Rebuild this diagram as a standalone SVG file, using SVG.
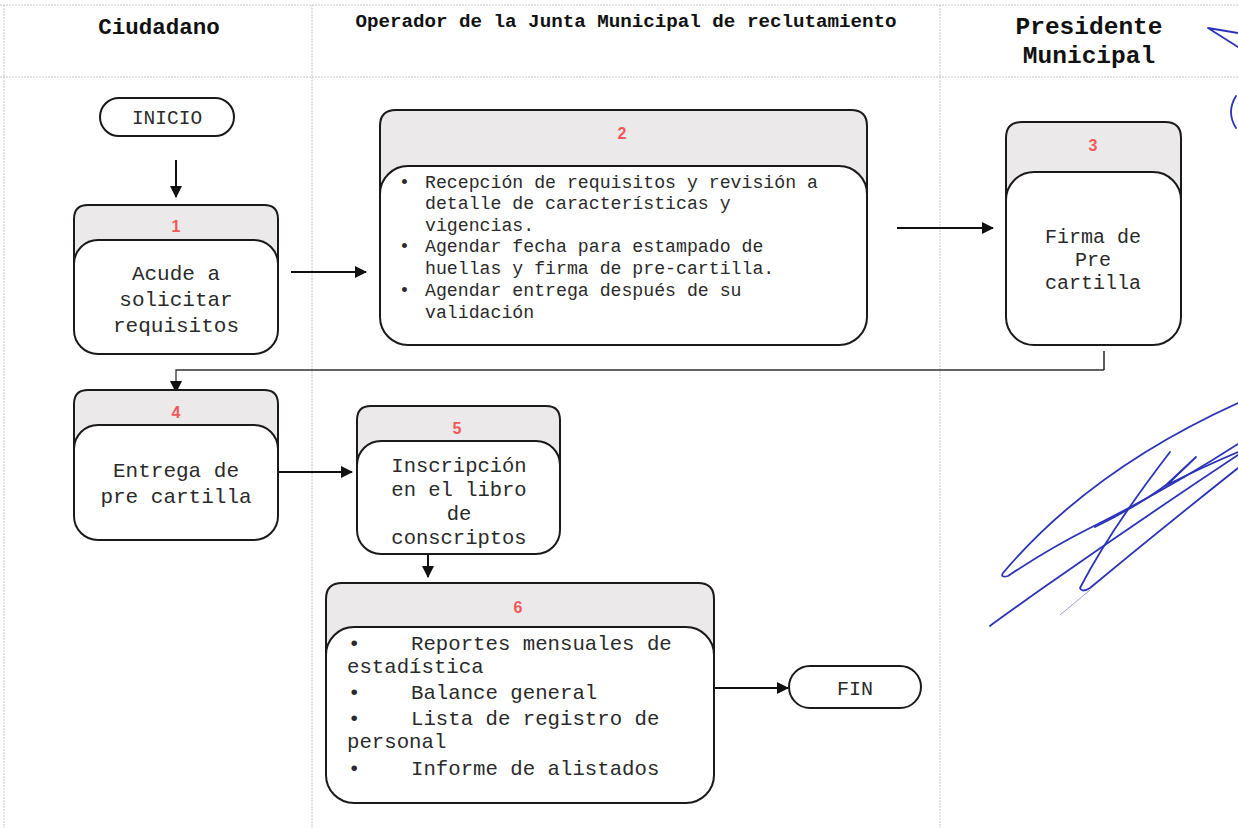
<svg xmlns="http://www.w3.org/2000/svg" width="1238" height="828" viewBox="0 0 1238 828">
<defs>
<marker id="arr" markerWidth="12" markerHeight="12" refX="11" refY="6" orient="auto" markerUnits="userSpaceOnUse">
<path d="M0,0 L12,6 L0,12 Z" fill="#111"/>
</marker>
</defs>
<style>
.lane{stroke:#c8c8c8;stroke-width:1;stroke-dasharray:2 1;fill:none}
.hdr{font-family:"Liberation Mono","Courier New",monospace;font-weight:bold;fill:#111;text-anchor:middle}
.outer{fill:#ebe9e9;stroke:#1a1a1a;stroke-width:2}
.inner{fill:#fff;stroke:#1a1a1a;stroke-width:2}
.num{font-family:"Liberation Sans",Arial,sans-serif;font-weight:bold;font-size:16px;fill:#f0585a;text-anchor:middle}
.t{font-family:"Liberation Mono","Courier New",monospace;fill:#2a2a2a;text-anchor:middle}
.tl{font-family:"Liberation Mono","Courier New",monospace;fill:#2a2a2a}
.term{fill:#fff;stroke:#1a1a1a;stroke-width:2}
.con{stroke:#111;stroke-width:2;fill:none}
.sig{stroke:#2b34b8;stroke-width:1.8;fill:none;stroke-linecap:round;stroke-linejoin:round}
</style>
<rect width="1238" height="828" fill="#fff"/>
<g id="lanes">
<line class="lane" x1="0" y1="5" x2="1238" y2="5"/>
<line class="lane" x1="0" y1="77" x2="1238" y2="77"/>
<line class="lane" x1="4" y1="5" x2="4" y2="828"/>
<line class="lane" x1="312" y1="5" x2="312" y2="828"/>
<line class="lane" x1="940" y1="5" x2="940" y2="828"/>
<text class="hdr" x="159" y="34" font-size="22.5">Ciudadano</text>
<text class="hdr" x="626" y="27" font-size="19.2">Operador de la Junta Municipal de reclutamiento</text>
<text class="hdr" x="1089" y="34" font-size="24.5">Presidente</text>
<text class="hdr" x="1089" y="63" font-size="24.5">Municipal</text>
</g>
<g id="connectors">
<line class="con" x1="176" y1="160" x2="176" y2="197" marker-end="url(#arr)"/>
<line class="con" x1="291" y1="272" x2="366" y2="272" marker-end="url(#arr)"/>
<line class="con" x1="897" y1="228" x2="993" y2="228" marker-end="url(#arr)"/>
<line x1="1104" y1="351" x2="1104" y2="370" stroke="#222" stroke-width="1.5"/>
<polyline points="1104,370 176,370 176,392" fill="none" stroke="#333" stroke-width="1.3" marker-end="url(#arr)"/>
<line class="con" x1="278" y1="472" x2="352" y2="472" marker-end="url(#arr)"/>
<line class="con" x1="428" y1="554" x2="428" y2="577" marker-end="url(#arr)"/>
<line class="con" x1="714" y1="688" x2="788" y2="688" marker-end="url(#arr)"/>
</g>
<g id="inicio">
<rect class="term" x="100" y="98" width="134" height="38" rx="19"/>
<text class="t" x="167" y="124" font-size="19.5">INICIO</text>
</g>
<g id="n1">
<path class="outer" d="M74,264 V219 Q74,205 88,205 H264 Q278,205 278,219 V264 Z"/>
<rect class="inner" x="74" y="240" width="204" height="114" rx="24"/>
<text class="num" x="176" y="232">1</text>
<text class="t" font-size="21"><tspan x="176" y="280">Acude a</tspan><tspan x="176" y="306">solicitar</tspan><tspan x="176" y="332">requisitos</tspan></text>
</g>
<g id="n2">
<path class="outer" d="M380,194 V126 Q380,110 396,110 H851 Q867,110 867,126 V194 Z"/>
<rect class="inner" x="380" y="166" width="487" height="179" rx="28"/>
<text class="num" x="622" y="139">2</text>
<text class="tl" font-size="18.2">
<tspan x="399" y="188">•</tspan><tspan x="425" y="188">Recepción de requisitos y revisión a</tspan>
<tspan x="425" y="209">detalle de características y</tspan>
<tspan x="425" y="231">vigencias.</tspan>
<tspan x="399" y="252">•</tspan><tspan x="425" y="252">Agendar fecha para estampado de</tspan>
<tspan x="425" y="274">huellas y firma de pre-cartilla.</tspan>
<tspan x="399" y="296">•</tspan><tspan x="425" y="296">Agendar entrega después de su</tspan>
<tspan x="425" y="318">validación</tspan>
</text>
</g>
<g id="n3">
<path class="outer" d="M1006,200 V138 Q1006,122 1022,122 H1165 Q1181,122 1181,138 V200 Z"/>
<rect class="inner" x="1006" y="172" width="175" height="173" rx="28"/>
<text class="num" x="1093" y="151">3</text>
<text class="t" font-size="20"><tspan x="1093" y="243">Firma de</tspan><tspan x="1093" y="266">Pre</tspan><tspan x="1093" y="289">cartilla</tspan></text>
</g>
<g id="n4">
<path class="outer" d="M74,449 V404 Q74,390 88,390 H264 Q278,390 278,404 V449 Z"/>
<rect class="inner" x="74" y="425" width="204" height="115" rx="24"/>
<text class="num" x="176" y="418">4</text>
<text class="t" font-size="21"><tspan x="176" y="477">Entrega de</tspan><tspan x="176" y="503">pre cartilla</tspan></text>
</g>
<g id="n5">
<path class="outer" d="M357,465 V420 Q357,406 371,406 H546 Q560,406 560,420 V465 Z"/>
<rect class="inner" x="357" y="441" width="203" height="113" rx="24"/>
<text class="num" x="457" y="434">5</text>
<text class="t" font-size="20.5"><tspan x="459" y="472">Inscripción</tspan><tspan x="459" y="496">en el libro</tspan><tspan x="459" y="520">de</tspan><tspan x="459" y="544">conscriptos</tspan></text>
</g>
<g id="n6">
<path class="outer" d="M326,655 V599 Q326,583 342,583 H698 Q714,583 714,599 V655 Z"/>
<rect class="inner" x="326" y="627" width="388" height="176" rx="28"/>
<text class="num" x="518" y="613">6</text>
<text class="tl" font-size="20.7">
<tspan x="348" y="650">•</tspan><tspan x="411" y="650">Reportes mensuales de</tspan>
<tspan x="347" y="673">estadística</tspan>
<tspan x="348" y="699">•</tspan><tspan x="411" y="699">Balance general</tspan>
<tspan x="348" y="725">•</tspan><tspan x="411" y="725">Lista de registro de</tspan>
<tspan x="347" y="748">personal</tspan>
<tspan x="348" y="775">•</tspan><tspan x="411" y="775">Informe de alistados</tspan>
</text>
</g>
<g id="fin">
<rect class="term" x="789" y="666" width="132" height="42" rx="21"/>
<text class="t" x="855" y="695" font-size="20">FIN</text>
</g>
<g id="signature">
<path class="sig" d="M1238,33 L1208,28 L1238,47"/>
<path class="sig" d="M1236,96 Q1226,112 1236,128"/>
<path class="sig" d="M1238,403 Q1090,470 1003,573 Q1000,578 1008,576 Q1050,548 1090,528 Q1170,488 1238,444"/>
<path class="sig" d="M990,626 Q995,622 1040,590 Q1140,520 1238,455"/>
<path class="sig" d="M1170,452 Q1110,530 1080,588 Q1082,593 1090,588 Q1160,530 1238,468" stroke-width="1.4"/>
<path class="sig" d="M1095,527 Q1140,505 1170,482 L1196,457 L1165,486 Q1200,468 1238,452"/>
<path d="M1090,590 L1060,615" stroke="#9aa0d8" stroke-width="1" fill="none"/>
</g>
</svg>
